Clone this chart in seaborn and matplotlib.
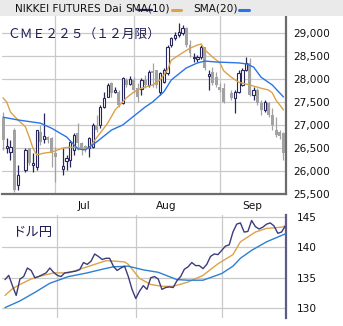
import numpy as np
import pandas as pd
import matplotlib
matplotlib.use("Agg")
import matplotlib.pyplot as plt
from matplotlib.patches import Rectangle
from matplotlib.lines import Line2D
from matplotlib.ticker import FuncFormatter
import seaborn as sns

# ---- calendar -------------------------------------------------------------
weekdays = pd.bdate_range("2022-06-13", "2022-09-26")
cme_holidays = pd.to_datetime(["2022-06-20", "2022-07-04", "2022-09-05"])
trade_days = weekdays[~weekdays.isin(cme_holidays)]
month_starts = pd.to_datetime(["2022-07-01", "2022-08-01", "2022-09-01"])
month_names = ["Jul", "Aug", "Sep"]

# ---- Nikkei 225 CME futures (Dec contract), daily OHLC ----------------------
nk_open = [27150, 26500, 26410, 26890, 25700, 26020, 26500, 26130, 26090, 26850,
           26700, 26740, 26720, 26390, 26040, 26220, 26240, 26460, 26830, 26610,
           26540, 26500, 26520, 27000, 27000, 27390, 27610, 27910, 27720, 27720,
           27480, 27980, 27890, 27980, 27800, 27780, 27980, 27870, 28170, 28200,
           27720, 27940, 28130, 28740, 28890, 28960, 29000, 29110, 28740, 28460,
           28440, 28480, 28700, 28070, 28150, 28040, 27830, 27800, 27700, 27590,
           27720, 27870, 28200, 28350, 27650, 27760, 27480, 27330, 27480, 27220,
           26890, 26850, 26830]
nk_high = [27280, 26720, 26670, 26930, 26130, 26500, 26500, 26390, 26890, 27000,
           27260, 26760, 26740, 26520, 26500, 26350, 26670, 26830, 27040, 26630,
           26570, 26740, 27040, 27220, 27430, 27720, 27910, 27930, 27830, 27760,
           28040, 28020, 28070, 28040, 27910, 28020, 28090, 28200, 28350, 28200,
           28150, 28240, 28740, 28910, 29020, 29220, 29170, 29130, 28850, 28570,
           28520, 28740, 28700, 28200, 28260, 28150, 27910, 27910, 27760, 27760,
           28200, 28240, 28480, 28460, 27830, 27800, 27540, 27540, 27500, 27370,
           27170, 26900, 26850]
nk_low = [26460, 26390, 26240, 25540, 25590, 25980, 26130, 25980, 26020, 26570,
          26610, 26610, 26090, 25760, 25910, 26020, 26090, 26350, 26460, 26350,
          26410, 26300, 26500, 26850, 26930, 27370, 27610, 27610, 27700, 27390,
          27460, 27830, 27870, 27700, 27500, 27650, 27800, 27830, 27830, 27800,
          27650, 27910, 28090, 28700, 28850, 28910, 28960, 28700, 28480, 28370,
          28370, 28440, 28200, 27760, 27870, 27830, 27720, 27480, 27540, 27260,
          27700, 27850, 28170, 27630, 27540, 27430, 27220, 27280, 27170, 26890,
          26740, 26700, 26240]
nk_close = [26670, 26540, 26520, 25590, 25910, 26460, 26170, 26170, 26890, 26630,
            26760, 26670, 26390, 26300, 26110, 26280, 26630, 26780, 26610, 26460,
            26480, 26720, 27000, 26890, 27390, 27590, 27870, 27700, 27760, 27430,
            28020, 27870, 28000, 27760, 27610, 27980, 27870, 28150, 28130, 27870,
            28130, 28200, 28700, 28890, 28960, 29020, 29110, 28740, 28570, 28480,
            28480, 28700, 28240, 28110, 27910, 27870, 27760, 27500, 27590, 27720,
            28130, 28200, 28350, 27650, 27760, 27480, 27330, 27500, 27220, 27000,
            26780, 26760, 26390]

# moving averages of the futures price
nk_sma10_dates = ["2022-06-13", "2022-06-14", "2022-06-15", "2022-06-17", "2022-06-21",
                  "2022-06-22", "2022-06-23", "2022-06-24", "2022-06-28", "2022-06-30",
                  "2022-07-05", "2022-07-07", "2022-07-12", "2022-07-14", "2022-07-18",
                  "2022-07-21", "2022-07-25", "2022-07-28", "2022-08-01", "2022-08-03",
                  "2022-08-08", "2022-08-10", "2022-08-12", "2022-08-15", "2022-08-18",
                  "2022-08-22", "2022-08-24", "2022-08-25", "2022-08-26", "2022-08-30",
                  "2022-09-01", "2022-09-02", "2022-09-06", "2022-09-08", "2022-09-13",
                  "2022-09-16", "2022-09-20", "2022-09-21", "2022-09-22", "2022-09-26"]
nk_sma10 = [27590, 27500, 27280, 27110, 26960, 26740, 26500, 26350, 26390, 26410,
            26500, 26520, 26500, 26500, 26720, 27040, 27330, 27590, 27720, 27800,
            27870, 27980, 28200, 28410, 28570, 28670, 28740, 28760, 28630, 28480,
            28350, 28180, 28040, 27930, 27870, 27800, 27760, 27700, 27540, 27330]
nk_sma20_dates = ["2022-06-13", "2022-06-17", "2022-06-27", "2022-06-30", "2022-07-06",
                  "2022-07-11", "2022-07-13", "2022-07-18", "2022-07-22", "2022-07-27",
                  "2022-08-02", "2022-08-04", "2022-08-08", "2022-08-11", "2022-08-15",
                  "2022-08-19", "2022-08-24", "2022-08-26", "2022-08-31", "2022-09-08",
                  "2022-09-12", "2022-09-14", "2022-09-16", "2022-09-21", "2022-09-26"]
nk_sma20 = [27170, 27110, 27040, 26930, 26740, 26480, 26460, 26630, 26890, 27000,
            27260, 27390, 27500, 27720, 27980, 28240, 28350, 28390, 28370, 28350,
            28330, 28260, 28040, 27870, 27610]

# ---- USD/JPY daily close and its moving averages ---------------------------
fx_close = [134.7, 135.4, 133.7, 132.1, 134.8, 135.2, 136.6, 136.2, 135.0, 135.2,
            135.5, 135.8, 136.6, 135.9, 135.4, 135.2, 135.8, 135.9, 136.0, 136.1,
            136.35, 137.5, 137.2, 137.7, 138.9, 138.5, 138.0, 138.2, 138.2, 136.9,
            136.2, 136.6, 136.9, 135.2, 133.1, 131.6, 132.8, 133.7, 133.1, 135.0,
            135.2, 134.8, 133.1, 133.4, 133.5, 133.4, 134.5, 135.2, 136.4, 136.8,
            137.5, 137.0, 137.0, 136.5, 137.2, 138.5, 138.9, 138.8, 139.5, 140.2,
            140.4, 142.5, 143.8, 144.0, 142.5, 142.6, 144.4, 143.4, 143.0, 143.3,
            143.8, 144.0, 143.5, 142.3, 142.5, 143.5]
fx_sma10_dates = ["2022-06-13", "2022-06-15", "2022-06-17", "2022-06-22", "2022-06-24",
                  "2022-06-30", "2022-07-06", "2022-07-11", "2022-07-15", "2022-07-20",
                  "2022-07-25", "2022-07-27", "2022-07-28", "2022-08-02", "2022-08-05",
                  "2022-08-10", "2022-08-15", "2022-08-19", "2022-08-25", "2022-08-31",
                  "2022-09-06", "2022-09-08", "2022-09-14", "2022-09-19", "2022-09-23",
                  "2022-09-26"]
fx_sma10 = [132.1, 133.2, 133.9, 134.8, 135.2, 135.8, 135.8, 136.4, 137.2, 137.8,
            137.7, 137.6, 137.2, 134.9, 133.9, 133.6, 133.6, 134.3, 135.4, 137.3,
            138.8, 140.9, 142.5, 143.1, 143.3, 143.5]
fx_sma20_dates = ["2022-06-13", "2022-06-17", "2022-06-23", "2022-06-29", "2022-07-06",
                  "2022-07-13", "2022-07-19", "2022-07-22", "2022-07-28", "2022-08-03",
                  "2022-08-09", "2022-08-16", "2022-08-19", "2022-08-25", "2022-09-01",
                  "2022-09-06", "2022-09-08", "2022-09-13", "2022-09-19", "2022-09-26"]
fx_sma20 = [130.1, 131.2, 132.6, 134.1, 135.2, 135.8, 136.4, 136.8, 136.9, 136.3,
            135.9, 134.7, 134.6, 134.6, 135.7, 136.9, 138.2, 139.5, 140.9, 142.2]

# ---- styling ---------------------------------------------------------------
sns.set_style("white")
plt.rcParams["font.family"] = ["DejaVu Sans"]
NAVY = "#27275e"
CANDLE_GREY = "#a2a2a2"
ORANGE = "#dca24a"
BLUE = "#2a74e6"
FX_LINE = "#3c3c7c"
FX_BLUE = "#2b80d4"
GRID = "#c9c9c9"
BORDER = "#6c6c6c"

W, H = 343, 326
fig = plt.figure(figsize=(W / 100, H / 100), dpi=100)
fig.patch.set_facecolor("white")

pos = {d: i for i, d in enumerate(weekdays)}
def xs(dates):
    return np.array([pos[pd.Timestamp(d)] for d in dates])

def fx_(px):   # figure fraction from pixel x
    return px / W
def fy_(py):   # figure fraction from pixel y (measured from top)
    return 1 - py / H

# header band with legend
fig.patches.append(Rectangle((0, fy_(16)), 1, 16 / H, transform=fig.transFigure,
                             facecolor="#eaeaea", edgecolor="none", zorder=0))
fig.text(fx_(15), fy_(8.5), "NIKKEI FUTURES Dai", fontsize=7.6, va="center", color="#111111")
fig.text(fx_(125), fy_(8.5), "SMA(10)", fontsize=7.6, va="center", color="#111111")
fig.add_artist(Line2D([fx_(138), fx_(152)], [fy_(9.5), fy_(9.5)], color=NAVY, lw=1.6,
                      transform=fig.transFigure))
fig.add_artist(Line2D([fx_(172), fx_(181)], [fy_(9.5), fy_(9.5)], color=ORANGE, lw=2.2,
                      transform=fig.transFigure))
fig.text(fx_(193), fy_(8.5), "SMA(20)", fontsize=7.6, va="center", color="#111111")
fig.add_artist(Line2D([fx_(239), fx_(249)], [fy_(9.5), fy_(9.5)], color=BLUE, lw=2.2,
                      transform=fig.transFigure))

# ---- price panel -------------------------------------------------------------
ax = fig.add_axes([fx_(2), fy_(194), (286 - 2) / W, (194 - 16) / H])
x = xs(trade_days)
o, h, l, c = map(np.array, (nk_open, nk_high, nk_low, nk_close))
up = c >= o

for xv in xs(month_starts):
    ax.axvline(xv, color=GRID, lw=0.9, zorder=0)
ax.set_yticks(np.arange(25500, 29001, 500))
ax.grid(axis="y", color=GRID, lw=0.9)
ax.set_axisbelow(True)

ax.vlines(x[up], l[up], h[up], color=NAVY, lw=0.9, zorder=2)
ax.vlines(x[~up], l[~up], h[~up], color=CANDLE_GREY, lw=0.9, zorder=2)
ax.bar(x[up], c[up] - o[up], bottom=o[up], width=0.62, facecolor="white",
       edgecolor=NAVY, linewidth=0.8, zorder=3)
ax.bar(x[~up], o[~up] - c[~up], bottom=c[~up], width=0.8, color=CANDLE_GREY,
       linewidth=0, zorder=3)

sns.lineplot(x=xs(nk_sma10_dates), y=nk_sma10, ax=ax, color=ORANGE, lw=1.0, zorder=4)
sns.lineplot(x=xs(nk_sma20_dates), y=nk_sma20, ax=ax, color=BLUE, lw=1.0, zorder=4)

ax.set_xlim(-0.27, 75.67)
ax.set_ylim(25500, 29370)
ax.set_xticks([])
ax.yaxis.tick_right()
ax.yaxis.set_major_formatter(FuncFormatter(lambda v, _: f"{int(v):,}"))
ax.tick_params(axis="y", length=0, pad=5, labelsize=7.6, labelcolor="#111111")
for s in ("left", "top"):
    ax.spines[s].set_visible(False)
for s in ("right", "bottom"):
    ax.spines[s].set_color(BORDER)
    ax.spines[s].set_linewidth(1.6)
ax.set_xlabel("")
ax.set_ylabel("")

fig.text(fx_(7), fy_(35), "ＣＭＥ２２５（１２月限）", fontsize=9.2, va="center",
         color="#1d1d52", family=["Noto Sans CJK JP", "DejaVu Sans"])

# month labels
for d, name in zip(month_starts, month_names):
    xm = pos[d] + 6
    px = 2 + (xm + 0.27) * (284 / 75.94)
    fig.text(fx_(px), fy_(206), name, fontsize=7.6, va="center", ha="left", color="#111111")

# ---- USD/JPY panel -------------------------------------------------------------
ax2 = fig.add_axes([fx_(2), fy_(318), (286 - 2) / W, (318 - 215) / H])
for xv in xs(month_starts):
    ax2.axvline(xv, color=GRID, lw=0.9, zorder=0)
ax2.set_yticks([130, 135, 140, 145])
ax2.grid(axis="y", color=GRID, lw=0.9)
ax2.set_axisbelow(True)

sns.lineplot(x=np.arange(len(weekdays)), y=fx_close, ax=ax2, color=FX_LINE, lw=1.0, zorder=4)
sns.lineplot(x=xs(fx_sma10_dates), y=fx_sma10, ax=ax2, color=ORANGE, lw=1.0, zorder=3)
sns.lineplot(x=xs(fx_sma20_dates), y=fx_sma20, ax=ax2, color=FX_BLUE, lw=1.0, zorder=3)

ax2.set_xlim(-0.8, 75.2)
ax2.set_ylim(128.4, 145.3)
ax2.set_xticks([])
ax2.yaxis.tick_right()
ax2.tick_params(axis="y", length=0, pad=8, labelsize=7.6, labelcolor="#111111")
for s in ("left", "top", "bottom"):
    ax2.spines[s].set_visible(False)
ax2.spines["right"].set_color("#5c5c84")
ax2.spines["right"].set_linewidth(1.6)
ax2.set_xlabel("")
ax2.set_ylabel("")

fig.text(fx_(12), fy_(232), "ドル円", fontsize=9.6, va="center", color="#1d1d52",
         family=["Noto Sans CJK JP", "DejaVu Sans"])

fig.savefig("out.png", dpi=100)
